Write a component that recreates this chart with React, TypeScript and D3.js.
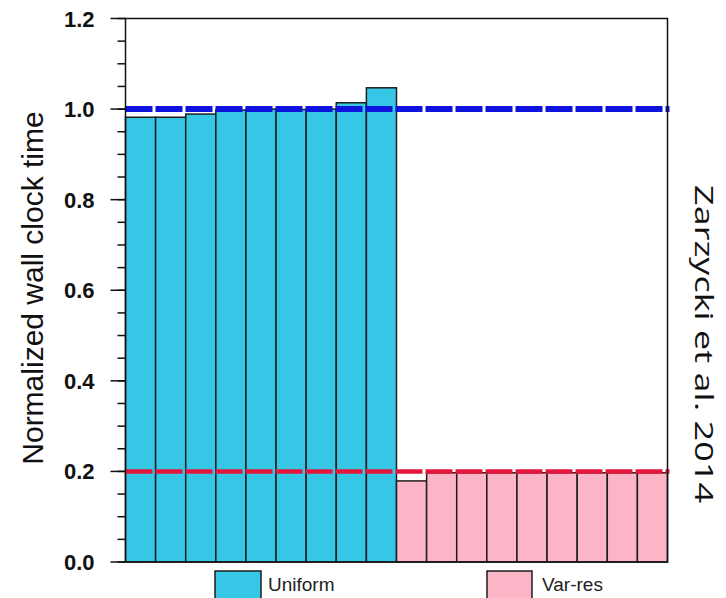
import React from "react";
import * as d3 from "d3";

const uniformValues = [0.982, 0.982, 0.989, 0.998, 1.0, 0.999, 1.0, 1.014, 1.047];
const varresValues = [0.179, 0.197, 0.197, 0.197, 0.197, 0.197, 0.197, 0.197, 0.197];
const seriesNames = ["Uniform", "Var-res"];
const refLines = [1.0, 0.2];
const yMajorTicks = [0, 0.2, 0.4, 0.6, 0.8, 1.0, 1.2];
const yMinorTicks = d3.range(0, 1.2001, 0.05);

const W = 726;
const H = 598;
const M = { left: 125.5, right: 667.5, top: 18.5, bottom: 562 };
const BLUE_FILL = "#36c6e6";
const PINK_FILL = "#fbb5c7";
const BLUE_LINE = "#0d12dc";
const RED_LINE = "#e5163c";

export default function App() {
  const bars = [
    ...uniformValues.map((v, i) => ({ key: "u" + i, v, fill: BLUE_FILL })),
    ...varresValues.map((v, i) => ({ key: "v" + i, v, fill: PINK_FILL })),
  ];
  const x = d3
    .scaleBand<string>()
    .domain(bars.map((b) => b.key))
    .range([M.left, M.right])
    .padding(0);
  const y = d3.scaleLinear().domain([0, 1.2]).range([M.bottom, M.top]);

  return (
    <svg
      width={W}
      height={H}
      style={{ position: "absolute", left: 0, top: 0, background: "#fff" }}
    >
      {bars.map((b) => (
        <rect
          key={b.key}
          x={x(b.key)}
          y={y(b.v)}
          width={x.bandwidth()}
          height={y(0) - y(b.v)}
          fill={b.fill}
          stroke="#1e1e1e"
          strokeWidth={1.5}
        />
      ))}
      {/* reference lines */}
      <line
        x1={M.left}
        x2={M.right + 2}
        y1={y(refLines[0])}
        y2={y(refLines[0])}
        stroke={BLUE_LINE}
        strokeWidth={6}
        strokeDasharray="27 3"
      />
      <line
        x1={M.left}
        x2={M.right + 2}
        y1={y(refLines[1])}
        y2={y(refLines[1])}
        stroke={RED_LINE}
        strokeWidth={4.5}
        strokeDasharray="27 3"
      />
      {/* frame */}
      <rect
        x={M.left}
        y={M.top}
        width={M.right - M.left}
        height={M.bottom - M.top}
        fill="none"
        stroke="#111"
        strokeWidth={1.5}
      />
      {/* minor ticks */}
      {yMinorTicks.map((t, i) => (
        <line
          key={"mi" + i}
          x1={M.left - 8}
          x2={M.left}
          y1={y(t)}
          y2={y(t)}
          stroke="#111"
          strokeWidth={1.5}
        />
      ))}
      {yMajorTicks.map((t, i) => (
        <g key={"ma" + i}>
          <line
            x1={M.left - 15}
            x2={M.left}
            y1={y(t)}
            y2={y(t)}
            stroke="#111"
            strokeWidth={1.5}
          />
          <text
            x={94.5}
            y={y(t) + 8}
            textAnchor="end"
            fontFamily="Liberation Sans, Arial, sans-serif"
            fontWeight="bold"
            fontSize={22}
            fill="#111"
          >
            {d3.format(".1f")(t)}
          </text>
        </g>
      ))}
      <text
        transform={`translate(43, 288) rotate(-90)`}
        textAnchor="middle"
        fontFamily="Liberation Sans, Arial, sans-serif"
        fontSize={30}
        fill="#111"
      >
        Normalized wall clock time
      </text>
      {/* legend */}
      <rect x={215} y={571} width={46} height={30} fill={BLUE_FILL} stroke="#1e1e1e" strokeWidth={1.5} />
      <text x={268} y={591} fontFamily="Liberation Sans, Arial, sans-serif" fontSize={19} fill="#222">
        {seriesNames[0]}
      </text>
      <rect x={487} y={571} width={45} height={30} fill={PINK_FILL} stroke="#1e1e1e" strokeWidth={1.5} />
      <text x={542} y={591} fontFamily="Liberation Sans, Arial, sans-serif" fontSize={19} fill="#222">
        {seriesNames[1]}
      </text>
      {/* citation */}
      <text
        transform={`translate(695, 185) rotate(90)`}
        textAnchor="start"
        fontFamily="'Open Sans', Lato, sans-serif"
        fontSize={26}
        textLength={318}
        lengthAdjust="spacingAndGlyphs"
        fill="#111"
      >
        Zarzycki et al. 2014
      </text>
    </svg>
  );
}
